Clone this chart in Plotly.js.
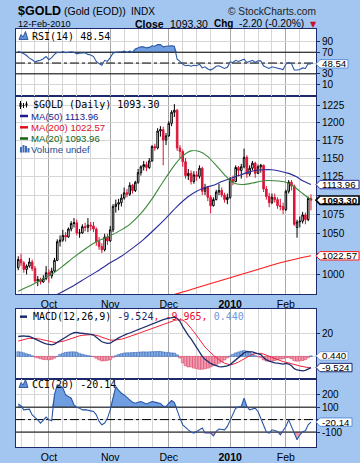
<!DOCTYPE html>
<html>
<head>
<meta charset="utf-8">
<script src="https://cdn.plot.ly/plotly-3.0.1.min.js"></script>
<style>
html,body{margin:0;padding:0;background:#a3c6f0;overflow:hidden;}
#chart{width:360px;height:463px;}
</style>
</head>
<body>
<div id="chart"></div>
<script>
// ---------------- DATA ----------------
const dates = ["2009-09-16","2009-09-17","2009-09-18","2009-09-21","2009-09-22","2009-09-23","2009-09-24","2009-09-25","2009-09-28","2009-09-29","2009-09-30",
"2009-10-01","2009-10-02","2009-10-05","2009-10-06","2009-10-07","2009-10-08","2009-10-09","2009-10-12","2009-10-13","2009-10-14","2009-10-15","2009-10-16","2009-10-19","2009-10-20","2009-10-21","2009-10-22","2009-10-23","2009-10-26","2009-10-27","2009-10-28","2009-10-29","2009-10-30",
"2009-11-02","2009-11-03","2009-11-04","2009-11-05","2009-11-06","2009-11-09","2009-11-10","2009-11-11","2009-11-12","2009-11-13","2009-11-16","2009-11-17","2009-11-18","2009-11-19","2009-11-20","2009-11-23","2009-11-24","2009-11-25","2009-11-26","2009-11-27","2009-11-30",
"2009-12-01","2009-12-02","2009-12-03","2009-12-04","2009-12-07","2009-12-08","2009-12-09","2009-12-10","2009-12-11","2009-12-14","2009-12-15","2009-12-16","2009-12-17","2009-12-18","2009-12-21","2009-12-22","2009-12-23","2009-12-24","2009-12-28","2009-12-29","2009-12-30","2009-12-31",
"2010-01-04","2010-01-05","2010-01-06","2010-01-07","2010-01-08","2010-01-11","2010-01-12","2010-01-13","2010-01-14","2010-01-15","2010-01-18","2010-01-19","2010-01-20","2010-01-21","2010-01-22","2010-01-25","2010-01-26","2010-01-27","2010-01-28","2010-01-29",
"2010-02-01","2010-02-02","2010-02-03","2010-02-04","2010-02-05","2010-02-08","2010-02-09","2010-02-10","2010-02-11","2010-02-12"];

const monthLabels = ["Oct","Nov","Dec","2010","Feb"];

const open = [1008,1018,1014,1006,1010,1015,1007,992,994,991,995,
1002,998,1004,1017,1040,1042,1048,1046,1056,1063,1064,1051,1051,1059,1058,1061,1060,1056,1040,1034,1030,1046,
1041,1055,1085,1088,1090,1096,1103,1101,1113,1106,1117,1130,1138,1141,1137,1146,1166,1164,1188,1190,1175,
1181,1199,1215,1218,1164,1159,1145,1126,1129,1118,1127,1125,1136,1105,1110,1097,1086,1094,1104,1106,1100,1094,
1097,1121,1118,1137,1133,1138,1151,1128,1136,1143,1129,1138,1140,1108,1098,1090,1097,1094,1086,1085,
1081,1105,1117,1112,1058,1065,1066,1074,1068,1095.5];
const high = [1022,1025,1016,1012,1020,1018,1010,998,996,999,1010,
1006,1008,1020,1043,1048,1055,1052,1058,1066,1070,1068,1056,1062,1064,1070,1065,1065,1058,1046,1038,1050,1050,
1060,1088,1094,1095,1101,1110,1108,1117,1115,1119,1135,1140,1146,1145,1150,1168,1170,1192,1195,1194,1185,
1202,1218,1227,1220,1168,1162,1150,1135,1133,1132,1132,1140,1138,1115,1112,1100,1097,1107,1115,1110,1103,1102,
1124,1126,1140,1139,1142,1163,1154,1140,1146,1145,1141,1142,1141,1112,1103,1102,1102,1097,1095,1090,
1107,1120,1120,1114,1068,1072,1078,1077,1098,1101];
const low = [1005,1010,1002,1000,1008,1004,990,986,988,990,993,
990,995,1002,1016,1034,1040,1040,1045,1053,1058,1048,1045,1050,1053,1052,1054,1052,1035,1030,1026,1028,1036,
1040,1052,1077,1080,1085,1094,1097,1099,1102,1104,1115,1126,1133,1132,1135,1145,1160,1162,1180,1140,1168,
1180,1195,1208,1160,1150,1138,1122,1120,1114,1115,1119,1122,1100,1100,1092,1076,1085,1093,1100,1097,1090,1088,
1095,1113,1117,1125,1122,1136,1123,1125,1133,1123,1128,1130,1104,1094,1084,1088,1090,1082,1080,1075,
1079,1102,1106,1060,1045,1058,1063,1062,1066,1080];
const close = [1018,1014,1006,1010,1015,1007,992,994,991,995,1002,
1000,1004,1017,1040,1042,1048,1046,1056,1063,1064,1051,1051,1059,1058,1061,1060,1056,1040,1034,1030,1046,1041,
1055,1085,1088,1090,1096,1103,1101,1113,1106,1117,1130,1138,1141,1137,1146,1166,1164,1188,1190,1175,1181,
1199,1215,1218,1164,1159,1145,1126,1129,1118,1127,1125,1136,1105,1110,1097,1086,1094,1104,1106,1100,1094,1097,
1121,1118,1137,1133,1138,1151,1128,1136,1143,1129,1138,1140,1108,1098,1090,1097,1094,1086,1085,1081,
1105,1117,1112,1062,1065,1066,1074,1068,1095.5,1093.30];

// moving averages, read at sample bars
const ma20Idx = [0,4,8,12,16,20,24,28,32,36,40,44,48,52,56,59,62,65,68,71,74,76,78,81,84,88,92,96,99,102,105];
const ma20Val = [980,986,993,1000,1010,1021,1031,1040,1046,1053,1062,1076,1095,1118,1140,1153,1160,1159,1152,1140,1127,1119,1115,1114,1116,1119,1119,1117,1111,1102,1093.96];
const ma50Idx = [13,15,19,23,28,33,37,41,45,49,53,57,61,64,67,70,73,76,79,82,85,88,91,94,97,100,102,105];
const ma50Val = [975,978,985,993,1003,1014,1022,1032,1043,1056,1070,1085,1098,1105,1110,1113,1118,1122,1126,1130,1133,1134,1134,1132,1129,1124,1119,1113.96];
const ma200Idx = [50,58,64,70,76,82,88,94,100,105];
const ma200Val = [971,978,984,990,996,1002,1008,1014,1019,1022.57];

const rsi = [72,70,67,64,59,56,52,54,55,58,62,56,60,66,70,69,71,69,70,71,70,67,68,69,69,66,65,62,53,49,46,55,53,
60,68,70,70,71,72,70,72,70,76,78,80,80,78,79,82,81,84,84,80,81,82,82,81,57,53,48,45,46,44,46,45,48,41,43,39,37,40,44,45,42,40,42,
52,51,55,53,55,57,51,53,55,51,54,54,45,42,40,43,42,40,40,38,48,51,49,37,37,38,41,40,49,48.54];

const macd = [17,17.5,17.5,17.2,17,16,14.8,13.8,12.7,11.5,10.8,10,9.8,10.5,12,14,15.5,17,18.2,19.3,20.2,20.5,20,19.8,19.5,19.2,18.8,18.2,16.5,14.5,12.5,11.8,11.2,
11.3,13,14.5,15.8,17,18.3,19.2,20,21,22,23,24.2,25.2,26,27,28,29,30,31,31.5,32,32.5,33,33.5,32.5,30,25.5,21.5,18,15,11,7,3,0,-2.5,-4.5,-6,-7,-8,-8.8,-9,-8.8,-8,
-7,-5,-3,-1,1,3,4,4,3.8,3,2.5,1.5,-1,-3,-4,-5,-5.5,-5.8,-6,-6.5,-6,-6.5,-8,-10.5,-11.6,-12,-12.3,-12,-10.8,-9.524];
const signal = [13,13.8,14.5,15,15.4,15.5,15.4,15.1,14.7,14.1,13.5,12.9,12.3,12,12,12.3,12.9,13.6,14.5,15.4,16.3,17,17.6,18,18.3,18.5,18.6,18.5,18.1,17.4,16.4,15.5,14.6,
14,13.8,13.9,14.2,14.7,15.4,16.1,16.9,17.7,18.6,19.5,20.4,21.3,22.2,23.1,24,24.9,25.8,26.8,27.7,28.5,29.3,30,30.7,31.2,31.4,31,29.5,27,24,21,17.5,14,11,8,5.5,3,1,-1,-3,-4.5,-5.8,-6.8,
-7.2,-6.8,-6,-4.8,-3.5,-2,-0.5,0.8,1.8,2.4,2.7,2.6,2,1,0,-1,-2,-3,-3.8,-4.5,-5,-5.5,-6,-6.8,-7.5,-8.2,-8.8,-9.3,-9.7,-9.965];
const hist = [4,3.7,3,2.2,1.6,0.5,-0.6,-1.3,-2,-2.6,-2.7,-2.9,-2.5,-1.5,0,1.7,2.6,3.4,3.7,3.9,3.9,3.5,2.4,1.8,1.2,0.7,0.2,-0.3,-1.6,-2.9,-3.9,-3.7,-3.4,
-2.7,-0.8,0.6,1.6,2.3,2.9,3.1,3.1,3.3,3.4,3.5,3.8,3.9,3.8,3.9,4,4.1,4.2,4.2,3.8,3.5,3.2,3,2.8,1.3,-1.4,-5.5,-8,-9,-9,-10,-10.5,-11,-11,-10.5,-10,-9,-8,-7,-5.8,-4.5,-3,-1.2,
0.2,1.8,3,3.8,4.5,5,4.5,3.2,2,0.6,-0.2,-1.1,-3,-4,-4,-4,-3.5,-2.8,-2.2,-2,-1,-1,-2,-3.7,-4.1,-3.8,-3.5,-2.7,-1.1,0.44];

const cci = [126,110,78,82,84,38,20,-2,-28,0,20,-2,-10,200,278,272,255,198,185,172,118,100,92,78,80,78,70,65,38,-15,-42,-28,10,
78,185,265,235,212,198,175,158,140,132,140,145,135,126,135,145,140,135,130,108,105,130,153,137,65,12,-42,-65,-82,-100,-108,-95,-80,-68,-108,-105,-108,-130,-95,-76,-80,-82,-55,
-2,45,92,100,105,172,105,78,82,92,65,12,-55,-100,-108,-82,-88,-95,-122,-90,-55,-2,-50,-108,-162,-122,-98,-90,-42,-20.14];

// tick labels (blank ones are hidden behind value tags in the reference)
const priceTicks = [1000,1025,1050,1075,1100,1125,1150,1175,1200,1225];
const priceTickText = ["1000","","1050","1075","","1125","1150","1175","1200","1225"];
const rsiTicks = [10,30,50,70,90];
const rsiTickText = ["10","30","","70","90"];
const macdTicks = [0,20];
const macdTickText = ["","20"];
const cciTicks = [-100,0,100,200];
const cciTickText = ["-100","","100","200"];

// ---------------- STYLE / LAYOUT HELPERS ----------------
const NAVY = '#1d2a6b';
const SANS = 'Liberation Sans, Arial, sans-serif';
const MONO = 'DejaVu Sans Mono, monospace';
const L = 16, R = 316, T = 29, B = 447;
const px = x => (x - L) / (R - L);
const py = y => (B - y) / (B - T);
const N = dates.length;
const xs = dates.map((d, i) => i);
const XR = [-0.8, N + 0.8];

const monthStarts = [];
for (let i = 1; i < N; i++) if (dates[i].slice(5, 7) !== dates[i - 1].slice(5, 7)) monthStarts.push(i);
const weekGrid = [];
monthStarts.forEach((m, k) => {
  const next = k + 1 < monthStarts.length ? monthStarts[k + 1] : N + 2;
  for (let j = m + 5; j <= next - 3 && j < N; j += 5) weekGrid.push(j);
});
for (let j = monthStarts[0] - 5; j >= 0; j -= 5) weekGrid.push(j);

function xax(anchor, labels) {
  return {
    anchor: anchor, range: XR, type: 'linear', fixedrange: true,
    tickmode: 'array', tickvals: monthStarts,
    ticktext: monthLabels.map(t => /^\d{4}$/.test(t) ? '<b>' + t + '</b>' : t),
    showticklabels: labels, ticks: '',
    showgrid: true, gridcolor: '#a8a8a8', gridwidth: 1,
    minor: {tickmode: 'array', tickvals: weekGrid, showgrid: true, gridcolor: '#d6d6d6', gridwidth: 1, ticks: ''},
    showline: true, mirror: true, linecolor: NAVY, linewidth: 1, zeroline: false,
    tickfont: {family: SANS, size: 10.5, color: '#000'}
  };
}
function yax(anchor, domain, range, tickvals, ticktext, type) {
  return {
    anchor: anchor, domain: domain, range: range, type: type || 'linear', side: 'right', fixedrange: true,
    tickmode: 'array', tickvals: tickvals, ticktext: ticktext,
    ticks: 'outside', ticklen: 3, tickcolor: NAVY, tickwidth: 1,
    showgrid: true, gridcolor: '#d6d6d6', gridwidth: 1,
    showline: true, mirror: true, linecolor: NAVY, linewidth: 1, zeroline: false,
    tickfont: {family: SANS, size: 10, color: '#000'}
  };
}

// ---------------- TRACES ----------------
const traces = [];
const line = (axx, axy, y, color, width, dash) => ({x: [XR[0], XR[1]], y: [y, y], xaxis: axx, yaxis: axy, mode: 'lines', line: {color: color, width: width, dash: dash || 'solid'}, hoverinfo: 'skip', showlegend: false});

// RSI
traces.push({x: xs, y: xs.map(() => 70), xaxis: 'x2', yaxis: 'y2', mode: 'lines', line: {width: 0}, hoverinfo: 'skip', showlegend: false});
traces.push({x: xs, y: rsi.map(v => Math.max(v, 70)), xaxis: 'x2', yaxis: 'y2', mode: 'lines', line: {width: 0}, fill: 'tonexty', fillcolor: '#6f9fe0', hoverinfo: 'skip', showlegend: false});
traces.push(line('x2', 'y2', 70, '#000', 1));
traces.push(line('x2', 'y2', 30, '#000', 1));
traces.push(line('x2', 'y2', 50, '#000', 1, 'dashdot'));
traces.push({x: xs, y: rsi, xaxis: 'x2', yaxis: 'y2', mode: 'lines', line: {color: '#2a56a6', width: 1.1}, hoverinfo: 'skip', showlegend: false});

// Price candles: black when close >= previous close, red otherwise
const upIdx = xs.filter(i => i === 0 || close[i] >= close[i - 1]);
const dnIdx = xs.filter(i => i > 0 && close[i] < close[i - 1]);
function candle(ids, col) {
  return {type: 'candlestick', x: ids, open: ids.map(i => open[i]), high: ids.map(i => high[i]), low: ids.map(i => low[i]), close: ids.map(i => close[i]),
    xaxis: 'x', yaxis: 'y', whiskerwidth: 0,
    increasing: {line: {color: col, width: 1}, fillcolor: '#ffffff'},
    decreasing: {line: {color: col, width: 1}, fillcolor: col},
    hoverinfo: 'skip', showlegend: false};
}
traces.push(candle(upIdx, '#000000'));
traces.push(candle(dnIdx, '#dc1438'));
traces.push({x: ma200Idx, y: ma200Val, xaxis: 'x', yaxis: 'y', mode: 'lines', line: {color: '#ff1a1a', width: 1.1, shape: 'spline', smoothing: 0.6}, hoverinfo: 'skip', showlegend: false});
traces.push({x: ma50Idx, y: ma50Val, xaxis: 'x', yaxis: 'y', mode: 'lines', line: {color: '#2b2b9c', width: 1.1, shape: 'spline', smoothing: 0.6}, hoverinfo: 'skip', showlegend: false});
traces.push({x: ma20Idx, y: ma20Val, xaxis: 'x', yaxis: 'y', mode: 'lines', line: {color: '#3a8a3a', width: 1.1, shape: 'spline', smoothing: 0.6}, hoverinfo: 'skip', showlegend: false});

// MACD
traces.push({type: 'bar', x: xs, y: hist, xaxis: 'x3', yaxis: 'y3', width: 1,
  marker: {color: hist.map(v => v >= 0 ? '#86aee6' : '#f29ab0'), line: {color: hist.map(v => v >= 0 ? '#2f5fae' : '#d23a5c'), width: 0.5}},
  hoverinfo: 'skip', showlegend: false});
traces.push({x: xs, y: signal, xaxis: 'x3', yaxis: 'y3', mode: 'lines', line: {color: '#f0203a', width: 1}, hoverinfo: 'skip', showlegend: false});
traces.push({x: xs, y: macd, xaxis: 'x3', yaxis: 'y3', mode: 'lines', line: {color: '#1d2f6e', width: 1.3}, hoverinfo: 'skip', showlegend: false});

// CCI
traces.push({x: xs, y: xs.map(() => 100), xaxis: 'x4', yaxis: 'y4', mode: 'lines', line: {width: 0}, hoverinfo: 'skip', showlegend: false});
traces.push({x: xs, y: cci.map(v => Math.max(v, 100)), xaxis: 'x4', yaxis: 'y4', mode: 'lines', line: {width: 0}, fill: 'tonexty', fillcolor: '#6f9fe0', hoverinfo: 'skip', showlegend: false});
traces.push({x: xs, y: xs.map(() => -100), xaxis: 'x4', yaxis: 'y4', mode: 'lines', line: {width: 0}, hoverinfo: 'skip', showlegend: false});
traces.push({x: xs, y: cci.map(v => Math.min(v, -100)), xaxis: 'x4', yaxis: 'y4', mode: 'lines', line: {width: 0}, fill: 'tonexty', fillcolor: '#f29ab0', hoverinfo: 'skip', showlegend: false});
traces.push(line('x4', 'y4', 100, '#000', 1));
traces.push(line('x4', 'y4', -100, '#000', 1));
traces.push(line('x4', 'y4', 0, '#000', 1, 'dashdot'));
traces.push({x: xs, y: cci, xaxis: 'x4', yaxis: 'y4', mode: 'lines', line: {color: '#2a56a6', width: 1.1}, hoverinfo: 'skip', showlegend: false});

// ---------------- ANNOTATIONS & SHAPES ----------------
const ann = [];
const shapes = [];
function txt(x, y, text, size, color, family) {
  ann.push({xref: 'paper', yref: 'paper', x: px(x), y: py(y), xanchor: 'left', yanchor: 'middle', text: text, showarrow: false,
    font: {family: family || SANS, size: size, color: color || '#000'}, borderpad: 0});
}
const last = a => a[a.length - 1];
const f2 = v => v.toFixed(2);
const chg = last(close) - close[N - 2];

// header
txt(16.5, 11, '<b>$GOLD</b>', 12.5);
txt(63, 11.5, '(Gold (EOD))', 10.5);
txt(130, 11.5, 'INDX', 10);
txt(227, 11.5, '\u00a9 StockCharts.com', 10.2, '#222');
txt(16.5, 23.5, '12-Feb-2010', 9.2);
txt(134, 23.5, '<b>Close</b>', 10.5);
txt(169, 23.5, f2(last(close)), 10.5);
txt(213, 23.5, '<b>Chg</b>', 10);
txt(238, 23.5, f2(chg) + ' (' + f2(chg / close[N - 2] * 100) + '%)', 10.2);
txt(309, 24, '\u25bc', 8, '#c8102e', 'DejaVu Sans');

// panel legends
txt(31, 36.5, 'RSI(14) ' + f2(last(rsi)), 10, '#000', MONO);
txt(32, 105, '$GOLD (Daily) ' + f2(last(close)), 10, '#000', MONO);
txt(30, 116, 'MA(50) ' + f2(last(ma50Val)), 9.6, '#1c1c8c');
txt(30, 127.3, 'MA(200) ' + f2(last(ma200Val)), 9.6, '#e0101e');
txt(30, 138.5, 'MA(20) ' + f2(last(ma20Val)), 9.6, '#146414');
txt(30, 149.5, 'Volume undef', 9.6, '#234c96');
txt(32, 316.7, 'MACD(12,26,9) <span style="color:#1d2a6b">' + last(macd).toFixed(3) + '</span><span style="color:#e8102a">, ' + last(signal).toFixed(3) + ',</span><span style="color:#6a9be0"> ' + last(hist).toFixed(3) + '</span>', 10, '#000', MONO);
txt(31, 384.5, 'CCI(20) ' + f2(last(cci)), 10, '#000', MONO);

// legend icons
const pp = pts => 'M' + pts.map(p => px(p[0]) + ',' + py(p[1])).join(' L') + ' Z';
function mountain(x, yc) {
  shapes.push({type: 'path', xref: 'paper', yref: 'paper', layer: 'above', path: pp([[x, yc + 4], [x + 2, yc - 1], [x + 4, yc + 1.5], [x + 6.5, yc - 4], [x + 9, yc + 4]]), fillcolor: '#5b8fd8', line: {color: '#1f3f8f', width: 0.8}});
}
mountain(19, 35.5);
mountain(19, 383.5);
function seg(x0, x1, y, color, w) {
  shapes.push({type: 'line', xref: 'paper', yref: 'paper', layer: 'above', x0: px(x0), x1: px(x1), y0: py(y), y1: py(y), line: {color: color, width: w}});
}
seg(20, 28, 116, '#1c1c8c', 2.5);
seg(20, 28, 127.3, '#e0101e', 2.5);
seg(20, 28, 138.5, '#146414', 2.5);
seg(20, 27, 316.7, NAVY, 2.5);
[[20.5, 101, 109], [23.5, 103, 108], [26.5, 101.5, 107.5]].forEach(c => {
  shapes.push({type: 'line', xref: 'paper', yref: 'paper', layer: 'above', x0: px(c[0]), x1: px(c[0]), y0: py(c[1]), y1: py(c[2]), line: {color: '#000', width: 1}});
  shapes.push({type: 'rect', xref: 'paper', yref: 'paper', layer: 'above', x0: px(c[0] - 1), x1: px(c[0] + 1), y0: py(c[1] + 2), y1: py(c[2] - 2), fillcolor: '#000', line: {width: 0}});
});
[[20, 147], [22.5, 145], [25, 146], [27.5, 148]].forEach(b => {
  shapes.push({type: 'rect', xref: 'paper', yref: 'paper', layer: 'above', x0: px(b[0]), x1: px(b[0] + 2), y0: py(152.5), y1: py(b[1]), fillcolor: '#3a6ab8', line: {width: 0}});
});

// value tags on the right axis
function tw(s) { let w = 0; for (const c of s) w += (c === '.' ? 2.7 : c === '-' ? 3.2 : 5.4); return w; }
function tag(yref, val, label, border, bw, bold) {
  const w = Math.round(tw(label) + 8);
  shapes.push({type: 'path', xref: 'paper', yref: yref, xsizemode: 'pixel', ysizemode: 'pixel', xanchor: 1, yanchor: val,
    path: 'M0,0 L4,4.2 L' + w + ',4.2 L' + w + ',-4.2 L4,-4.2 Z', fillcolor: '#ffffff', line: {color: border, width: bw}, layer: 'above'});
  ann.push({xref: 'paper', yref: yref, x: 1, y: yref === 'y' ? Math.log10(val) : val, xanchor: 'left', yanchor: 'middle', xshift: 5,
    text: bold ? '<b>' + label + '</b>' : label, showarrow: false, font: {family: SANS, size: 9.7, color: '#000'}, borderpad: 0});
}
tag('y2', last(rsi), f2(last(rsi)), '#5b8fd8', 1);
tag('y', last(ma50Val), f2(last(ma50Val)), '#2b2b9c', 1);
tag('y', last(close), f2(last(close)), '#000000', 1.6, true);
tag('y', last(ma200Val), f2(last(ma200Val)), '#ff1a1a', 1);
tag('y3', last(hist), last(hist).toFixed(3), '#7aa6e0', 1);
tag('y3', last(macd), last(macd).toFixed(3), NAVY, 1);
tag('y4', last(cci), f2(last(cci)), '#5b8fd8', 1);

// ---------------- LAYOUT ----------------
const layout = {
  width: 360, height: 463,
  margin: {l: L, r: 360 - R, t: T, b: 463 - B, pad: 0},
  paper_bgcolor: '#a3c6f0', plot_bgcolor: '#ffffff',
  showlegend: false, dragmode: false, hovermode: false, boxgap: 0.2,
  xaxis: Object.assign(xax('y', true), {rangeslider: {visible: false}}),
  xaxis2: xax('y2', false),
  xaxis3: xax('y3', false),
  xaxis4: xax('y4', true),
  yaxis: yax('x', [py(294), py(96)], [Math.log10(976.7), Math.log10(1239)], priceTicks, priceTickText, 'log'),
  yaxis2: yax('x2', [py(96), 1], [-11, 113], rsiTicks, rsiTickText),
  yaxis3: yax('x3', [py(379), py(309)], [-19.3, 40.5], macdTicks, macdTickText),
  yaxis4: yax('x4', [0, py(379)], [-220, 326], cciTicks, cciTickText),
  annotations: ann, shapes: shapes
};

Plotly.newPlot('chart', traces, layout, {staticPlot: true, displayModeBar: false});
</script>
</body>
</html>
